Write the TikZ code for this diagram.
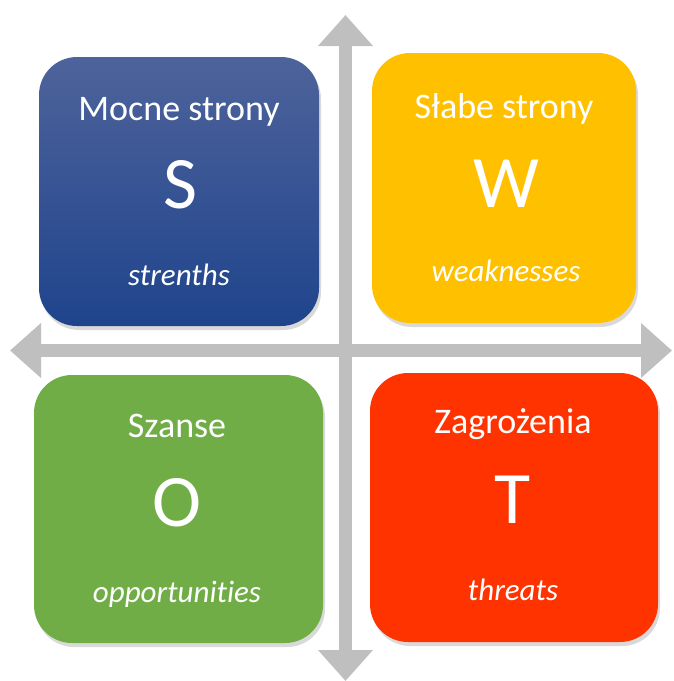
\documentclass[tikz,border=0pt]{standalone}
\usepackage{fontspec}
\setmainfont{Carlito}[Ligatures=NoCommon]
\usepackage{tikz}
\usetikzlibrary{arrows.meta,shadows}
\definecolor{swotgrey}{RGB}{191,191,191}
\definecolor{swotbluetop}{RGB}{78,99,155}
\definecolor{swotbluebot}{RGB}{31,68,140}
\definecolor{swotyellow}{RGB}{255,192,0}
\definecolor{swotgreen}{RGB}{112,173,71}
\definecolor{swotred}{RGB}{255,51,0}

\begin{document}
\begin{tikzpicture}[
  x=1pt, y=1pt,
  axisarrow/.style={-{Triangle[width=53pt,length=31pt]}, line width=13pt, swotgrey},
  card/.style={rounded corners=38pt, inner sep=0pt,
    drop shadow={shadow xshift=2pt, shadow yshift=-4pt, opacity=0.3}},
  title/.style={anchor=base, text=white, font=\fontsize{36}{40}\selectfont},
  letter/.style={anchor=base, text=white, font=\fontsize{74}{80}\selectfont},
  gloss/.style={anchor=base, text=white, font=\fontsize{31}{34}\selectfont\itshape}
]
\useasboundingbox (0,0) rectangle (673,-681);

% axes (drawn first, cards sit on top)
\coordinate (cen) at (345.5,-350.5);
\coordinate (up) at (345.5,-15);
\coordinate (down) at (345.5,-681);
\coordinate (left) at (10,-350.5);
\coordinate (right) at (672,-350.5);
\draw[axisarrow] (cen) -- (up);
\draw[axisarrow] (cen) -- (down);
\draw[axisarrow] (cen) -- (left);
\draw[axisarrow] (cen) -- (right);

% four quadrants
\node[card, top color=swotbluetop, bottom color=swotbluebot,
  minimum width=280pt, minimum height=269pt] (str) at (179,-191.5) {};
\node[card, fill=swotyellow, minimum width=264pt, minimum height=270pt] (wea) at (504,-188) {};
\node[card, fill=swotgreen, minimum width=289pt, minimum height=268pt] (opp) at (178.5,-509) {};
\node[card, fill=swotred, minimum width=288pt, minimum height=269pt] (thr) at (514,-507.5) {};

% S
\node[title] (strtitle) at (179,-120) {Mocne strony};
\node[letter] (strletter) at (180,-208) {S};
\node[gloss] (strgloss) at (179,-285) {strenths};
% W
\node[title] (weatitle) at (504,-118) {Słabe strony};
\node[letter] (wealetter) at (506,-207) {W};
\node[gloss] (weagloss) at (506,-281) {weaknesses};
% O
\node[title] (opptitle) at (177,-437) {Szanse};
\node[letter] (oppletter) at (177,-526) {O};
\node[gloss] (oppgloss) at (177,-602) {opportunities};
% T
\node[title] (thrtitle) at (513,-433) {Zagrożenia};
\node[letter] (thrletter) at (513,-523) {T};
\node[gloss] (thrgloss) at (513,-600) {threats};
\end{tikzpicture}
\end{document}
